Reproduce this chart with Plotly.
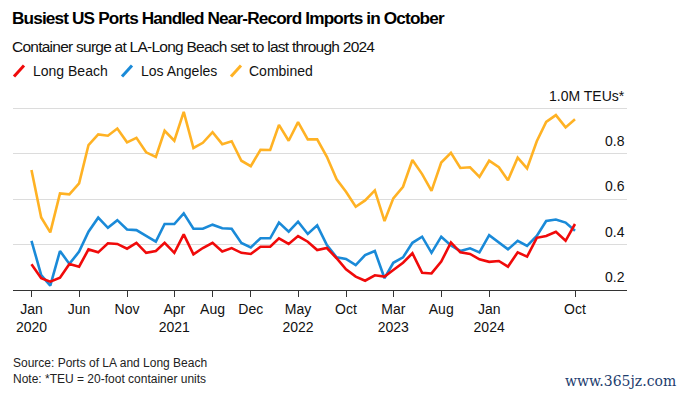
import pandas as pd
import plotly.graph_objects as go

# ---------------- data ----------------
months = pd.date_range("2020-01-01", "2024-10-01", freq="MS")

long_beach = [0.313, 0.252, 0.237, 0.254, 0.315, 0.303, 0.379, 0.366, 0.406, 0.403,
              0.382, 0.408, 0.364, 0.372, 0.408, 0.364, 0.445, 0.357, 0.385, 0.408,
              0.370, 0.385, 0.364, 0.359, 0.391, 0.391, 0.428, 0.403, 0.438, 0.413,
              0.376, 0.385, 0.340, 0.291, 0.259, 0.241, 0.265, 0.259, 0.288, 0.320,
              0.362, 0.276, 0.273, 0.325, 0.410, 0.366, 0.359, 0.335, 0.324, 0.328,
              0.303, 0.366, 0.347, 0.430, 0.438, 0.457, 0.417, 0.491]

los_angeles = [0.417, 0.266, 0.219, 0.372, 0.315, 0.369, 0.457, 0.519, 0.474, 0.508,
               0.467, 0.464, 0.439, 0.413, 0.491, 0.491, 0.538, 0.470, 0.470, 0.488,
               0.472, 0.470, 0.407, 0.388, 0.428, 0.428, 0.497, 0.457, 0.501, 0.447,
               0.485, 0.398, 0.344, 0.337, 0.310, 0.354, 0.372, 0.252, 0.320, 0.344,
               0.408, 0.435, 0.364, 0.435, 0.396, 0.372, 0.384, 0.366, 0.442, 0.410,
               0.379, 0.417, 0.394, 0.438, 0.504, 0.511, 0.497, 0.461]

combined = [0.729, 0.520, 0.454, 0.626, 0.622, 0.670, 0.839, 0.886, 0.880, 0.912,
            0.851, 0.871, 0.807, 0.787, 0.902, 0.858, 0.985, 0.826, 0.849, 0.896,
            0.843, 0.856, 0.770, 0.746, 0.818, 0.817, 0.928, 0.858, 0.940, 0.864,
            0.864, 0.787, 0.688, 0.633, 0.567, 0.595, 0.639, 0.504, 0.604, 0.655,
            0.773, 0.711, 0.637, 0.762, 0.805, 0.738, 0.741, 0.699, 0.770, 0.741,
            0.684, 0.783, 0.736, 0.856, 0.941, 0.971, 0.917, 0.953]

series_names = ["Long Beach", "Los Angeles", "Combined"]
series_values = [long_beach, los_angeles, combined]
series_colors = ["#f00a0a", "#1a8ad8", "#ffb224"]

x_tick_vals = ["2020-01-01", "2020-06-01", "2020-11-01", "2021-04-01", "2021-08-01",
               "2021-12-01", "2022-05-01", "2022-10-01", "2023-03-01", "2023-08-01",
               "2024-01-01", "2024-10-01"]
x_tick_text = ["Jan<br>2020", "Jun", "Nov", "Apr<br>2021", "Aug", "Dec", "May<br>2022",
               "Oct", "Mar<br>2023", "Aug", "Jan<br>2024", "Oct"]

y_tick_vals = [0.2, 0.4, 0.6, 0.8, 1.0]
y_tick_text = ["0.2", "0.4", "0.6", "0.8", "1.0M TEUs*"]

title = "Busiest US Ports Handled Near-Record Imports in October"
subtitle = "Container surge at LA-Long Beach set to last through 2024"
source = "Source: Ports of LA and Long Beach"
note = "Note: *TEU = 20-foot container units"

# ---------------- layout geometry ----------------
# the page body adds an 8px offset; figure is sized/positioned to compensate
OFF = 8
W, H = 685 - OFF, 396 - OFF
PLOT_L, PLOT_R, PLOT_T, PLOT_B = 13 - OFF, 627 - OFF, 104 - OFF, 290 - OFF
ML, MR, MT, MB = PLOT_L, W - PLOT_R, PLOT_T, H - PLOT_B
PW = W - ML - MR
PH = H - MT - MB


def px2x(px):
    return (px - OFF - ML) / PW


def py2y(py):
    return (PLOT_B - (py - OFF)) / PH


FONT = "Liberation Sans, Arial, sans-serif"

fig = go.Figure()

# draw combined first, then LA, then LB on top
for name, vals, col in reversed(list(zip(series_names, series_values, series_colors))):
    fig.add_trace(go.Scatter(x=months, y=vals, mode="lines", name=name,
                             line=dict(color=col, width=2.6), showlegend=False,
                             hoverinfo="skip"))

annotations = []
shapes = []

# legend (slanted line icons + labels)
legend_icon_x = [14, 122, 231]
legend_text_x = [31, 139, 247]
for name, col, ix, tx in zip(series_names, series_colors, legend_icon_x, legend_text_x):
    shapes.append(dict(type="line", xref="paper", yref="paper",
                       x0=px2x(ix), y0=py2y(76.5), x1=px2x(ix + 10), y1=py2y(65.5),
                       line=dict(color=col, width=3)))
    annotations.append(dict(text=name, xref="paper", yref="paper", x=px2x(tx), y=py2y(71),
                            xanchor="left", yanchor="middle", showarrow=False,
                            font=dict(size=14, color="#111", family=FONT)))

# y tick labels above the gridlines, right aligned
for v, t in zip(y_tick_vals, y_tick_text):
    annotations.append(dict(text=t, xref="paper", yref="y", x=1, y=v,
                            xanchor="right", yanchor="bottom", yshift=3, showarrow=False,
                            font=dict(size=14, color="#111", family=FONT)))

annotations.append(dict(text="<span style='letter-spacing:-0.85px'><b>" + title + "</b></span>",
                        xref="paper", yref="paper",
                        x=px2x(10), y=py2y(18),
                        xanchor="left", yanchor="middle", showarrow=False,
                        font=dict(size=17.2, color="#000", family=FONT)))
annotations.append(dict(text="<span style='letter-spacing:-0.75px'>" + subtitle + "</span>",
                        xref="paper", yref="paper", x=px2x(10), y=py2y(46),
                        xanchor="left", yanchor="middle", showarrow=False,
                        font=dict(size=15.5, color="#111", family=FONT)))
annotations.append(dict(text=source, xref="paper", yref="paper", x=px2x(11), y=py2y(363),
                        xanchor="left", yanchor="middle", showarrow=False,
                        font=dict(size=12, color="#222", family=FONT)))
annotations.append(dict(text=note, xref="paper", yref="paper", x=px2x(11), y=py2y(379),
                        xanchor="left", yanchor="middle", showarrow=False,
                        font=dict(size=12, color="#222", family=FONT)))
annotations.append(dict(text="www.365jz.com", xref="paper", yref="paper", x=px2x(678), y=py2y(381),
                        xanchor="right", yanchor="middle", showarrow=False,
                        font=dict(size=14, color="#1d3d6e", family="DejaVu Serif, serif")))

fig.update_layout(
    width=W, height=H,
    margin=dict(l=ML, r=MR, t=MT, b=MB, pad=0),
    paper_bgcolor="white", plot_bgcolor="white",
    showlegend=False,
    xaxis=dict(type="date", range=["2019-11-03", "2025-03-16"],
               tickvals=x_tick_vals, ticktext=x_tick_text,
               showgrid=False, zeroline=False,
               showline=True, linecolor="#333", linewidth=1,
               ticks="outside", ticklen=6, tickcolor="#333", tickwidth=1,
               tickfont=dict(size=14, color="#111", family=FONT)),
    yaxis=dict(range=[0.2, 1.02], tickvals=y_tick_vals, showticklabels=False,
               showgrid=True, gridcolor="#dcdcdc", gridwidth=1, zeroline=False,
               ticks=""),
    annotations=annotations,
    shapes=shapes,
)

fig.write_html("out.html")
